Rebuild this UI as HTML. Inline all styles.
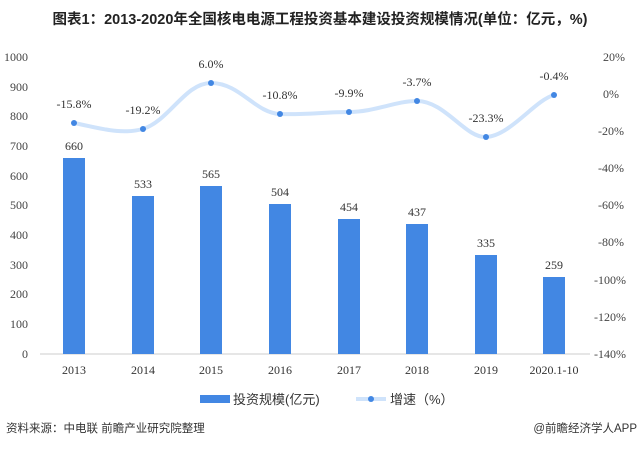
<!DOCTYPE html>
<html><head><meta charset="utf-8"><style>
body{margin:0;background:#fff;width:640px;height:446px;overflow:hidden}
text{font-family:"Liberation Serif","Noto Serif CJK SC",serif}
.s{font-family:"Liberation Sans","Noto Sans CJK SC",sans-serif}
</style></head><body>
<svg width="640" height="446" xmlns="http://www.w3.org/2000/svg">
<text x="320" y="24" text-anchor="middle" class="s" font-size="14.5" font-weight="bold" fill="#222">图表1：2013-2020年全国核电电源工程投资基本建设投资规模情况(单位：亿元，%)</text>
<g font-size="12" fill="#444" text-anchor="end">
<text x="28" y="61">1000</text><text x="28" y="91">900</text><text x="28" y="120">800</text><text x="28" y="150">700</text><text x="28" y="180">600</text><text x="28" y="209">500</text><text x="28" y="239">400</text><text x="28" y="269">300</text><text x="28" y="298">200</text><text x="28" y="328">100</text><text x="28" y="358">0</text>
</g>
<g font-size="12" fill="#444" text-anchor="start">
<text x="603" y="61">20%</text><text x="603" y="98">0%</text><text x="598" y="135">-20%</text><text x="598" y="172">-40%</text><text x="598" y="209">-60%</text><text x="598" y="246">-80%</text><text x="594" y="284">-100%</text><text x="594" y="321">-120%</text><text x="594" y="358">-140%</text>
</g>
<line x1="40" y1="354" x2="590" y2="354" stroke="#ccc"/>
<g fill="#4287e3">
<rect x="63" y="158" width="22" height="196"/>
<rect x="132" y="196" width="22" height="158"/>
<rect x="200" y="186" width="22" height="168"/>
<rect x="269" y="204" width="22" height="150"/>
<rect x="338" y="219" width="22" height="135"/>
<rect x="406" y="224" width="22" height="130"/>
<rect x="475" y="255" width="22" height="99"/>
<rect x="543" y="277" width="22" height="77"/>
</g>
<g font-size="12" fill="#333" text-anchor="middle">
<text x="74" y="150">660</text><text x="143" y="188">533</text><text x="211" y="178">565</text><text x="280" y="196">504</text><text x="349" y="211">454</text><text x="417" y="216">437</text><text x="486" y="247">335</text><text x="554" y="269">259</text>
</g>
<path d="M74,123 C100,128 120,135 143,129 C170,120 185,83 211,83 C240,83 255,113 280,114 C305,115 325,112 349,112 C375,112 395,101 417,101 C445,101 465,138 486,137 C510,136 535,100 554,95" fill="none" stroke="#cfe3fb" stroke-width="4"/>
<g fill="#4287e3">
<circle cx="74" cy="123" r="3"/><circle cx="143" cy="129" r="3"/><circle cx="211" cy="83" r="3"/><circle cx="280" cy="114" r="3"/><circle cx="349" cy="112" r="3"/><circle cx="417" cy="101" r="3"/><circle cx="486" cy="137" r="3"/><circle cx="554" cy="95" r="3"/>
</g>
<g font-size="12" fill="#333" text-anchor="middle">
<text x="74" y="108">-15.8%</text><text x="143" y="114">-19.2%</text><text x="211" y="68">6.0%</text><text x="280" y="99">-10.8%</text><text x="349" y="97">-9.9%</text><text x="417" y="86">-3.7%</text><text x="486" y="122">-23.3%</text><text x="554" y="80">-0.4%</text>
</g>
<g font-size="12" fill="#333" text-anchor="middle">
<text x="74" y="374">2013</text><text x="143" y="374">2014</text><text x="211" y="374">2015</text><text x="280" y="374">2016</text><text x="349" y="374">2017</text><text x="417" y="374">2018</text><text x="486" y="374">2019</text><text x="554" y="374">2020.1-10</text>
</g>
<rect x="200" y="395" width="30" height="8" fill="#4287e3"/>
<text x="233" y="404" class="s" font-size="13" fill="#333">投资规模(亿元)</text>
<line x1="356" y1="399" x2="386" y2="399" stroke="#cfe3fb" stroke-width="4"/>
<circle cx="371" cy="399" r="3" fill="#4287e3"/>
<text x="390" y="404" class="s" font-size="13" fill="#333">增速（%）</text>
<text x="6" y="432" class="s" font-size="11.5" fill="#333">资料来源：中电联 前瞻产业研究院整理</text>
<text x="637" y="432" class="s" font-size="11.5" fill="#333" text-anchor="end">@前瞻经济学人APP</text>
</svg>
</body></html>
